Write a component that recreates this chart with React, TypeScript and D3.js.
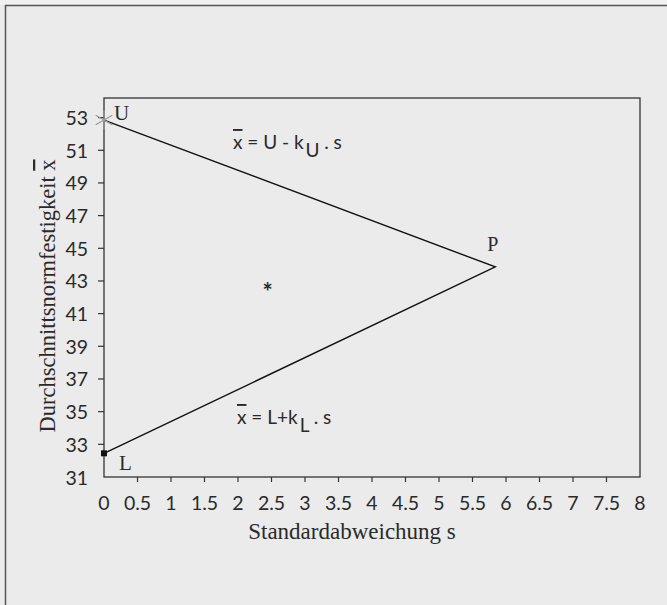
import React from 'react';
import * as d3 from 'd3';

// corner points of the acceptance triangle (s, mean strength)
const pointNames = ['U', 'P', 'L'];
const pointS = [0, 5.84, 0];
const pointX = [52.85, 43.86, 32.45];

// single sample mark
const sampleS = [2.44];
const sampleX = [42.44];

const xTicks = [0, 0.5, 1, 1.5, 2, 2.5, 3, 3.5, 4, 4.5, 5, 5.5, 6, 6.5, 7, 7.5, 8];
const yTicks = [31, 33, 35, 37, 39, 41, 43, 45, 47, 49, 51, 53];

const W = 667;
const H = 605;
const PLOT = { left: 104, right: 640, top: 98, bottom: 477 };

const SANS = 'Lato, "Noto Sans", sans-serif';
const SERIF = '"Liberation Serif", "DejaVu Serif", serif';
const INK = '#2a2a2a';

const App = () => {
  const xScale = d3.scaleLinear().domain([0, 8]).range([PLOT.left, PLOT.right]);
  const yScale = d3.scaleLinear().domain([31, 54.2]).range([PLOT.bottom, PLOT.top]);

  const pts = pointNames.map((n, i) => ({ name: n, x: xScale(pointS[i]), y: yScale(pointX[i]) }));
  const line = d3.line<{ x: number; y: number }>().x((d) => d.x).y((d) => d.y);

  const asterisk = d3.symbol().type(d3.symbolAsterisk).size(260)() ?? '';

  const xLabels = xTicks.map((t) => (
    <g key={t}>
      {t > 0 && t < 8 && (
        <line x1={xScale(t)} x2={xScale(t)} y1={PLOT.bottom} y2={PLOT.bottom + 5} stroke="#333" strokeWidth={1.2} />
      )}
      <text x={xScale(t)} y={510} textAnchor="middle" fontFamily={SANS} fontSize={19.5} fill={INK}>
        {t}
      </text>
    </g>
  ));

  const yLabels = yTicks.map((t) => (
    <g key={t}>
      {t > 31 && (
        <line x1={PLOT.left - 6} x2={PLOT.left} y1={yScale(t)} y2={yScale(t)} stroke="#333" strokeWidth={1.2} />
      )}
      <text x={88} y={yScale(t)} textAnchor="end" dominantBaseline="central" fontFamily={SANS} fontSize={19.5} fill={INK}>
        {t}
      </text>
    </g>
  ));

  return (
    <svg width={W} height={H} style={{ position: 'absolute', left: 0, top: 0 }}>
      <rect x={0} y={0} width={W} height={H} fill="#ebebeb" />
      <rect x={0} y={0} width={W} height={5} fill="#f1f1f1" />
      <line x1={5} x2={W} y1={5.5} y2={5.5} stroke="#555" strokeWidth={1.5} />
      <line x1={5.5} x2={5.5} y1={5} y2={H} stroke="#555" strokeWidth={1.5} />

      <rect
        x={PLOT.left}
        y={PLOT.top}
        width={PLOT.right - PLOT.left}
        height={PLOT.bottom - PLOT.top}
        fill="none"
        stroke="#333"
        strokeWidth={1.3}
      />
      {xLabels}
      {yLabels}

      <path d={line([pts[0], pts[1], pts[2]]) ?? ''} fill="none" stroke="#111" strokeWidth={1.4} />

      <path d={asterisk} transform={`translate(${pts[0].x},${pts[0].y})`} fill="none" stroke="#999" strokeWidth={1.2} />
      <rect x={pts[2].x - 3} y={pts[2].y - 3} width={6} height={6} fill="#111" />

      {sampleS.map((s, i) => (
        <text key={i} x={xScale(s)} y={yScale(sampleX[i]) + 11} textAnchor="middle" fontFamily={SANS} fontWeight={700} fontSize={24} fill={INK}>
          *
        </text>
      ))}

      <text x={pts[0].x + 10} y={120} fontFamily={SERIF} fontSize={21} fill={INK}>U</text>
      <text x={pts[1].x - 8} y={250.5} fontFamily={SERIF} fontSize={20} fill={INK}>P</text>
      <text x={pts[2].x + 15} y={470} fontFamily={SERIF} fontSize={21} fill={INK}>L</text>

      <text x={233} y={149} fontFamily={SANS} fontSize={19} fill={INK}>
        <tspan textDecoration="overline">x</tspan> = U - k
        <tspan dx={2} dy={8}>U</tspan>
        <tspan dy={-8}> .  s</tspan>
      </text>
      <text x={237} y={424} fontFamily={SANS} fontSize={19} fill={INK}>
        <tspan textDecoration="overline">x</tspan> = L+k
        <tspan dx={2} dy={8}>L</tspan>
        <tspan dy={-8}>   .  s</tspan>
      </text>

      <text x={352} y={539} textAnchor="middle" fontFamily={SERIF} fontSize={23} fill={INK}>
        Standardabweichung s
      </text>
      <text
        transform="translate(55,296) rotate(-90)"
        textAnchor="middle"
        fontFamily={SERIF}
        fontSize={22.5}
        fill={INK}
      >
        Durchschnittsnormfestigkeit <tspan textDecoration="overline">x</tspan>
      </text>
    </svg>
  );
};

export default App;
